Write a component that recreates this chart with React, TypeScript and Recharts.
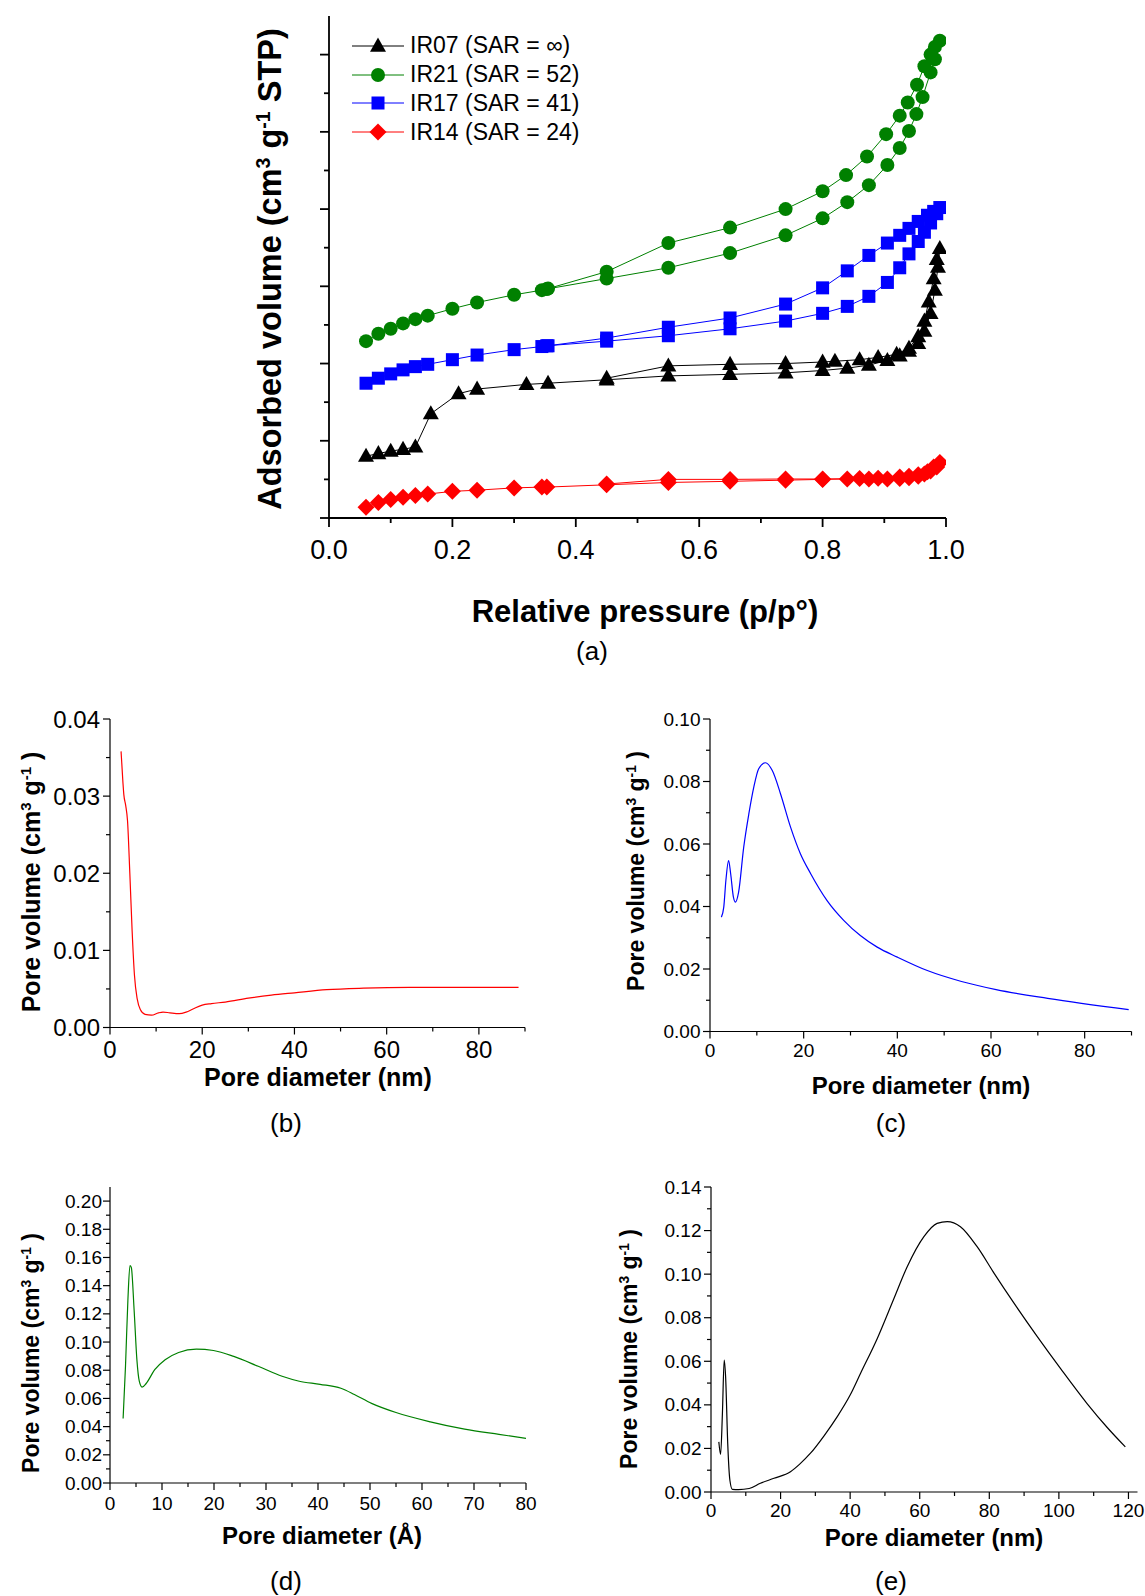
import React from "react";
import { LineChart, Line, XAxis, YAxis, Legend } from "recharts";

const FONT = "'Liberation Sans', Arial, Helvetica, sans-serif";

type Pt = [number, number];

// ---------- (a) N2 isotherms, y in arbitrary units (1 major tick = 1) ----------
const IR07_ADS: Pt[] = [[0.06,0.80],[0.08,0.835],[0.10,0.866],[0.12,0.89],[0.14,0.92],[0.165,1.35],[0.21,1.61],[0.24,1.67],[0.32,1.73],[0.355,1.745],[0.45,1.79],[0.55,1.84],[0.65,1.86],[0.74,1.88],[0.80,1.91],[0.84,1.94],[0.875,1.98],[0.905,2.04],[0.925,2.1],[0.94,2.16],[0.955,2.26],[0.965,2.42],[0.975,2.65],[0.982,2.95],[0.987,3.25],[0.99,3.49]];
const IR07_DES: Pt[] = [[0.985,3.35],[0.98,3.1],[0.972,2.8],[0.965,2.55],[0.955,2.35],[0.94,2.2],[0.92,2.12],[0.89,2.08],[0.86,2.05],[0.82,2.03],[0.80,2.02],[0.74,2.0],[0.65,1.99],[0.55,1.97],[0.45,1.81]];

const IR21_ADS: Pt[] = [[0.06,2.29],[0.08,2.385],[0.10,2.45],[0.12,2.52],[0.14,2.575],[0.16,2.62],[0.20,2.71],[0.24,2.79],[0.30,2.89],[0.345,2.95],[0.353,2.965],[0.45,3.1],[0.55,3.24],[0.65,3.43],[0.74,3.66],[0.80,3.88],[0.84,4.09],[0.875,4.31],[0.905,4.57],[0.925,4.79],[0.94,5.01],[0.952,5.23],[0.962,5.45],[0.975,5.77],[0.982,5.94],[0.99,6.18]];
const IR21_DES: Pt[] = [[0.982,6.1],[0.975,6.0],[0.965,5.85],[0.953,5.61],[0.938,5.38],[0.925,5.21],[0.903,4.97],[0.872,4.68],[0.838,4.44],[0.80,4.23],[0.74,4.0],[0.65,3.76],[0.55,3.56],[0.45,3.19],[0.355,2.97]];

const IR17_ADS: Pt[] = [[0.06,1.745],[0.08,1.81],[0.10,1.866],[0.12,1.918],[0.14,1.96],[0.16,1.99],[0.20,2.05],[0.24,2.11],[0.30,2.18],[0.345,2.22],[0.353,2.23],[0.45,2.29],[0.55,2.36],[0.65,2.45],[0.74,2.55],[0.80,2.65],[0.84,2.74],[0.875,2.87],[0.905,3.05],[0.925,3.24],[0.94,3.42],[0.955,3.58],[0.965,3.7],[0.975,3.82],[0.985,3.94],[0.99,4.02]];
const IR17_DES: Pt[] = [[0.98,3.97],[0.97,3.92],[0.955,3.84],[0.94,3.75],[0.925,3.66],[0.905,3.56],[0.875,3.4],[0.84,3.2],[0.80,2.98],[0.74,2.77],[0.65,2.59],[0.55,2.47],[0.45,2.33],[0.355,2.23]];

const IR14_ADS: Pt[] = [[0.06,0.14],[0.08,0.2],[0.10,0.24],[0.12,0.27],[0.14,0.29],[0.16,0.31],[0.20,0.345],[0.24,0.36],[0.30,0.39],[0.345,0.40],[0.353,0.40],[0.45,0.43],[0.55,0.46],[0.65,0.475],[0.74,0.49],[0.80,0.5],[0.84,0.505],[0.875,0.505],[0.905,0.505],[0.925,0.51],[0.94,0.52],[0.955,0.54],[0.965,0.57],[0.975,0.61],[0.985,0.66],[0.99,0.72]];
const IR14_DES: Pt[] = [[0.98,0.66],[0.97,0.6],[0.955,0.56],[0.94,0.54],[0.925,0.53],[0.89,0.515],[0.86,0.51],[0.80,0.505],[0.74,0.505],[0.65,0.5],[0.55,0.5],[0.45,0.44]];

const A_X_TICKS = [0, 0.1, 0.2, 0.3, 0.4, 0.5, 0.6, 0.7, 0.8, 0.9, 1.0];
const A_X_MAJOR = [0, 0.2, 0.4, 0.6, 0.8, 1.0];
const A_Y_TICKS = [0, 0.5, 1, 1.5, 2, 2.5, 3, 3.5, 4, 4.5, 5, 5.5, 6];
const A_Y_MAJOR = [0, 1, 2, 3, 4, 5, 6];

// ---------- (b)-(e) pore size distributions ----------
const B_PSD: Pt[] = [[2.4,0.0358],[2.8,0.0318],[3.0,0.0302],[3.4,0.0288],[3.8,0.0268],[4.3,0.0200],[4.8,0.0125],[5.3,0.0068],[5.9,0.0037],[6.6,0.0023],[7.6,0.0017],[9.0,0.0016],[10.5,0.0019],[11.5,0.0020],[13.0,0.0019],[15.0,0.0018],[16.5,0.0020],[18.0,0.0024],[20.0,0.0029],[22.0,0.0031],[25,0.0033],[30,0.0038],[35,0.0042],[40,0.0045],[47,0.0049],[55,0.0051],[65,0.0052],[75,0.0052],[88.6,0.0052]];
const C_PSD: Pt[] = [[2.43,0.0366],[2.94,0.0398],[3.39,0.0483],[3.97,0.0547],[4.42,0.0504],[5.0,0.043],[5.45,0.0414],[6.1,0.0445],[7.2,0.059],[8.3,0.0697],[9.35,0.0782],[10.4,0.0841],[11.85,0.086],[13.3,0.0835],[15.05,0.0761],[17.2,0.0654],[19.3,0.0569],[21.5,0.0505],[25.0,0.0419],[28.6,0.0355],[32.1,0.0307],[35.7,0.0270],[40.0,0.0238],[46.4,0.0195],[53.7,0.0160],[61.1,0.0134],[72.1,0.0106],[89.4,0.007]];
const D_PSD: Pt[] = [[2.52,0.0457],[2.98,0.0828],[3.44,0.1297],[3.84,0.1543],[4.1,0.153],[4.64,0.1226],[5.17,0.0875],[5.63,0.0722],[6.16,0.068],[6.95,0.0706],[8.6,0.0804],[10.6,0.0875],[13.2,0.0926],[16.6,0.095],[19.9,0.094],[23.8,0.0898],[28.5,0.0828],[33.1,0.0757],[36.4,0.0722],[40.4,0.0700],[44.4,0.0672],[47.0,0.0628],[50.3,0.0565],[55.0,0.05],[61.6,0.0434],[68.2,0.0382],[74.8,0.0345],[80,0.0317]];
const E_PSD: Pt[] = [[2.25,0.023],[2.76,0.0173],[3.28,0.036],[3.79,0.0606],[4.2,0.0529],[4.81,0.0222],[5.43,0.0054],[6.14,0.0012],[7.9,0.0011],[10.96,0.0016],[14.2,0.0040],[18.1,0.0063],[22.85,0.0093],[25.5,0.0128],[28.6,0.0178],[32.5,0.0258],[36.3,0.0346],[40,0.0445],[43.0,0.0545],[47.8,0.0705],[52.5,0.0885],[56.4,0.1034],[61.2,0.1172],[65.0,0.1233],[67.9,0.1241],[71.7,0.1218],[76.5,0.1126],[81.3,0.1006],[87.0,0.0869],[93.8,0.0713],[100.5,0.0566],[108.1,0.0406],[113.9,0.0296],[119.1,0.0207]];

const B_X_TICKS = [0, 10, 20, 30, 40, 50, 60, 70, 80, 90];
const B_X_MAJOR = [0, 20, 40, 60, 80];
const B_Y_TICKS = [0, 0.005, 0.01, 0.015, 0.02, 0.025, 0.03, 0.035, 0.04];
const B_Y_MAJOR = [0, 0.01, 0.02, 0.03, 0.04];
const C_Y_TICKS = [0, 0.01, 0.02, 0.03, 0.04, 0.05, 0.06, 0.07, 0.08, 0.09, 0.1];
const C_Y_MAJOR = [0, 0.02, 0.04, 0.06, 0.08, 0.1];
const D_X_TICKS = [0, 5, 10, 15, 20, 25, 30, 35, 40, 45, 50, 55, 60, 65, 70, 75, 80];
const D_X_MAJOR = [0, 10, 20, 30, 40, 50, 60, 70, 80];
const D_Y_TICKS = [0, 0.01, 0.02, 0.03, 0.04, 0.05, 0.06, 0.07, 0.08, 0.09, 0.1, 0.11, 0.12, 0.13, 0.14, 0.15, 0.16, 0.17, 0.18, 0.19, 0.2];
const D_Y_MAJOR = [0, 0.02, 0.04, 0.06, 0.08, 0.1, 0.12, 0.14, 0.16, 0.18, 0.2];
const E_X_TICKS = [0, 10, 20, 30, 40, 50, 60, 70, 80, 90, 100, 110, 120];
const E_X_MAJOR = [0, 20, 40, 60, 80, 100, 120];
const E_Y_TICKS = [0, 0.01, 0.02, 0.03, 0.04, 0.05, 0.06, 0.07, 0.08, 0.09, 0.1, 0.11, 0.12, 0.13, 0.14];
const E_Y_MAJOR = [0, 0.02, 0.04, 0.06, 0.08, 0.1, 0.12, 0.14];

const toRows = (pts: Pt[]) => pts.map(([x, y]) => ({ x, y }));

type Shape = "triangle" | "circle" | "square" | "diamond";

const A_SERIES = [
  { name: "IR07 (SAR = \u221e)", color: "#000000", shape: "triangle" as Shape, size: 16, data: toRows([...IR07_ADS, ...IR07_DES]) },
  { name: "IR21 (SAR = 52)", color: "#008000", shape: "circle" as Shape, size: 14, data: toRows([...IR21_ADS, ...IR21_DES]) },
  { name: "IR17 (SAR = 41)", color: "#0000ff", shape: "square" as Shape, size: 13, data: toRows([...IR17_ADS, ...IR17_DES]) },
  { name: "IR14 (SAR = 24)", color: "#ff0000", shape: "diamond" as Shape, size: 17, data: toRows([...IR14_ADS, ...IR14_DES]) },
];

function marker(shape: Shape, color: string, s: number, cx: number, cy: number, key: string) {
  if (shape === "triangle") {
    const h = s * 0.88;
    return <path key={key} d={`M${cx},${cy - h * 0.6}L${cx + s / 2},${cy + h * 0.4}L${cx - s / 2},${cy + h * 0.4}Z`} fill={color} />;
  }
  if (shape === "circle") return <circle key={key} cx={cx} cy={cy} r={s / 2} fill={color} />;
  if (shape === "square") return <rect key={key} x={cx - s / 2} y={cy - s / 2} width={s} height={s} fill={color} />;
  return <path key={key} d={`M${cx},${cy - s / 2}L${cx + s / 2},${cy}L${cx},${cy + s / 2}L${cx - s / 2},${cy}Z`} fill={color} />;
}

type AxisSpec = {
  domain: [number, number];
  ticks: number[];
  major: number[];
  fmt?: (v: number) => string;
  fontSize: number;
  gap: number;
};

const isMajor = (v: number, major: number[]) => major.some(m => Math.abs(m - v) < 1e-9);

const PAD_L = 110, PAD_T = 20, PAD_R = 30, PAD_B = 70;

function Panel({ l, t, r, b, x, y, majorLen, minorLen, sw, children, legend }: any) {
  const w = r - l + PAD_L + PAD_R;
  const h = b - t + PAD_T + PAD_B;
  const xs = x as AxisSpec, ys = y as AxisSpec;

  const xTick = (p: any) => {
    const v = p.payload.value;
    const maj = isMajor(v, xs.major);
    return (
      <g key={`xt-${v}`}>
        <line x1={p.x} y1={p.y} x2={p.x} y2={p.y + (maj ? majorLen : minorLen)} stroke="#000" strokeWidth={sw} />
        {maj && xs.fmt && (
          <text x={p.x} y={p.y + xs.gap} textAnchor="middle" dominantBaseline="central" fontFamily={FONT} fontSize={xs.fontSize} fill="#000">
            {xs.fmt(v)}
          </text>
        )}
      </g>
    );
  };
  const yTick = (p: any) => {
    const v = p.payload.value;
    const maj = isMajor(v, ys.major);
    return (
      <g key={`yt-${v}`}>
        <line x1={p.x} y1={p.y} x2={p.x - (maj ? majorLen : minorLen)} y2={p.y} stroke="#000" strokeWidth={sw} />
        {maj && ys.fmt && (
          <text x={p.x - ys.gap} y={p.y} textAnchor="end" dominantBaseline="central" fontFamily={FONT} fontSize={ys.fontSize} fill="#000">
            {ys.fmt(v)}
          </text>
        )}
      </g>
    );
  };
  const line = { stroke: "#000", strokeWidth: sw };

  return (
    <div style={{ position: "absolute", left: l - PAD_L, top: t - PAD_T }}>
      <LineChart width={w} height={h} margin={{ top: PAD_T, right: PAD_R, bottom: 0, left: 0 }}>
        <XAxis type="number" dataKey="x" domain={xs.domain} ticks={xs.ticks} interval={0} allowDataOverflow
          tickSize={0} tickMargin={0} tickLine={false} tick={xTick} height={PAD_B} axisLine={line} />
        <XAxis xAxisId="top" orientation="top" type="number" dataKey="x" domain={xs.domain} allowDataOverflow
          height={0} tick={false} tickLine={false} axisLine={line} />
        <YAxis type="number" domain={ys.domain} ticks={ys.ticks} interval={0} allowDataOverflow
          tickSize={0} tickMargin={0} tickLine={false} tick={yTick} width={PAD_L} axisLine={line} />
        <YAxis yAxisId="right" orientation="right" type="number" domain={ys.domain} allowDataOverflow
          width={0} tick={false} tickLine={false} axisLine={line} />
        {children}
        {legend}
      </LineChart>
    </div>
  );
}

function Txt({ x, y, size, bold, rotate, children }: any) {
  return (
    <div style={{
      position: "absolute", left: x, top: y,
      transform: `translate(-50%, -50%)${rotate ? " rotate(-90deg)" : ""}`,
      fontFamily: FONT, fontSize: size, fontWeight: bold ? "bold" : "normal",
      whiteSpace: "nowrap", lineHeight: 1, color: "#000",
    }}>
      {children}
    </div>
  );
}

const sup = (s: string) => <sup style={{ fontSize: "0.6em", verticalAlign: "0.55em", lineHeight: 0 }}>{s}</sup>;

function IsoLegend() {
  return (
    <div style={{ fontFamily: FONT, fontSize: 23 }}>
      {A_SERIES.map(s => (
        <div key={s.name} style={{ display: "flex", alignItems: "center", height: 28.8 }}>
          <svg width={58} height={28}>
            <line x1={0} y1={14} x2={52} y2={14} stroke={s.color} strokeWidth={1} />
            {marker(s.shape, s.color, s.size, 26, 14, "m")}
          </svg>
          <span>{s.name}</span>
        </div>
      ))}
    </div>
  );
}

const f1 = (v: number) => v.toFixed(1);
const f2 = (v: number) => v.toFixed(2);
const f0 = (v: number) => v.toFixed(0);

function psdLine(data: Pt[], color: string) {
  return <Line data={toRows(data)} dataKey="y" type="monotone" stroke={color} strokeWidth={1.2} dot={false} activeDot={false} isAnimationActive={false} />;
}

export default function App() {
  const volLabel = <>Pore volume (cm{sup("3")} g{sup("-1")} )</>;
  return (
    <div style={{ position: "absolute", left: 0, top: 0, width: 1145, height: 1596, overflow: "hidden", background: "#fff" }}>
      {/* (a) */}
      <Panel l={329} t={16} r={946} b={518} majorLen={9} minorLen={5} sw={1.8}
        x={{ domain: [0, 1], ticks: A_X_TICKS, major: A_X_MAJOR, fmt: f1, fontSize: 27, gap: 32 }}
        y={{ domain: [0, 6.5], ticks: A_Y_TICKS, major: A_Y_MAJOR, fontSize: 27, gap: 10 }}
        legend={<Legend layout="vertical" align="center" verticalAlign="middle"
          wrapperStyle={{ left: 352 - (329 - PAD_L), top: 31.5 - (16 - PAD_T), width: 260, height: 116 }}
          content={() => <IsoLegend />} />}>
        {A_SERIES.map(s => (
          <Line key={s.name} data={s.data} dataKey="y" type="linear" stroke={s.color} strokeWidth={1}
            dot={(p: any) => marker(s.shape, s.color, s.size, p.cx, p.cy, `${s.name}-${p.index}`)}
            activeDot={false} isAnimationActive={false} />
        ))}
      </Panel>
      <Txt x={270} y={269} size={32.5} bold rotate>Adsorbed volume (cm{sup("3")} g{sup("-1")} STP)</Txt>
      <Txt x={645} y={611} size={31} bold>Relative pressure (p/p°)</Txt>
      <Txt x={592} y={651} size={26}>(a)</Txt>

      {/* (b) */}
      <Panel l={110} t={718.5} r={525} b={1027} majorLen={7} minorLen={4} sw={1.2}
        x={{ domain: [0, 90], ticks: B_X_TICKS, major: B_X_MAJOR, fmt: f0, fontSize: 24, gap: 22 }}
        y={{ domain: [0, 0.04], ticks: B_Y_TICKS, major: B_Y_MAJOR, fmt: f2, fontSize: 24, gap: 10 }}>
        {psdLine(B_PSD, "#ff0000")}
      </Panel>
      <Txt x={31} y={882} size={25} bold rotate>{volLabel}</Txt>
      <Txt x={318} y={1077} size={25} bold>Pore diameter (nm)</Txt>
      <Txt x={286} y={1123} size={26}>(b)</Txt>

      {/* (c) */}
      <Panel l={709.5} t={718.5} r={1131} b={1031} majorLen={7} minorLen={4} sw={1.2}
        x={{ domain: [0, 90], ticks: B_X_TICKS, major: B_X_MAJOR, fmt: f0, fontSize: 19, gap: 19 }}
        y={{ domain: [0, 0.1], ticks: C_Y_TICKS, major: C_Y_MAJOR, fmt: f2, fontSize: 19, gap: 9.5 }}>
        {psdLine(C_PSD, "#0000ff")}
      </Panel>
      <Txt x={636} y={871} size={23} bold rotate>{volLabel}</Txt>
      <Txt x={921} y={1086} size={24} bold>Pore diameter (nm)</Txt>
      <Txt x={891} y={1123} size={26}>(c)</Txt>

      {/* (d) */}
      <Panel l={110} t={1187} r={526} b={1483} majorLen={7} minorLen={4} sw={1.2}
        x={{ domain: [0, 80], ticks: D_X_TICKS, major: D_X_MAJOR, fmt: f0, fontSize: 19, gap: 20 }}
        y={{ domain: [0, 0.21], ticks: D_Y_TICKS, major: D_Y_MAJOR, fmt: f2, fontSize: 19, gap: 8 }}>
        {psdLine(D_PSD, "#008000")}
      </Panel>
      <Txt x={31} y={1353} size={23} bold rotate>{volLabel}</Txt>
      <Txt x={322} y={1536} size={24} bold>Pore diameter (Å)</Txt>
      <Txt x={286} y={1581} size={26}>(d)</Txt>

      {/* (e) */}
      <Panel l={710.5} t={1187} r={1137} b={1492} majorLen={7} minorLen={4} sw={1.2}
        x={{ domain: [0, 122.6], ticks: E_X_TICKS, major: E_X_MAJOR, fmt: f0, fontSize: 19, gap: 18.5 }}
        y={{ domain: [0, 0.14], ticks: E_Y_TICKS, major: E_Y_MAJOR, fmt: f2, fontSize: 19, gap: 9.5 }}>
        {psdLine(E_PSD, "#000000")}
      </Panel>
      <Txt x={629} y={1349} size={23} bold rotate>{volLabel}</Txt>
      <Txt x={934} y={1538} size={24} bold>Pore diameter (nm)</Txt>
      <Txt x={891} y={1581} size={26}>(e)</Txt>
    </div>
  );
}
